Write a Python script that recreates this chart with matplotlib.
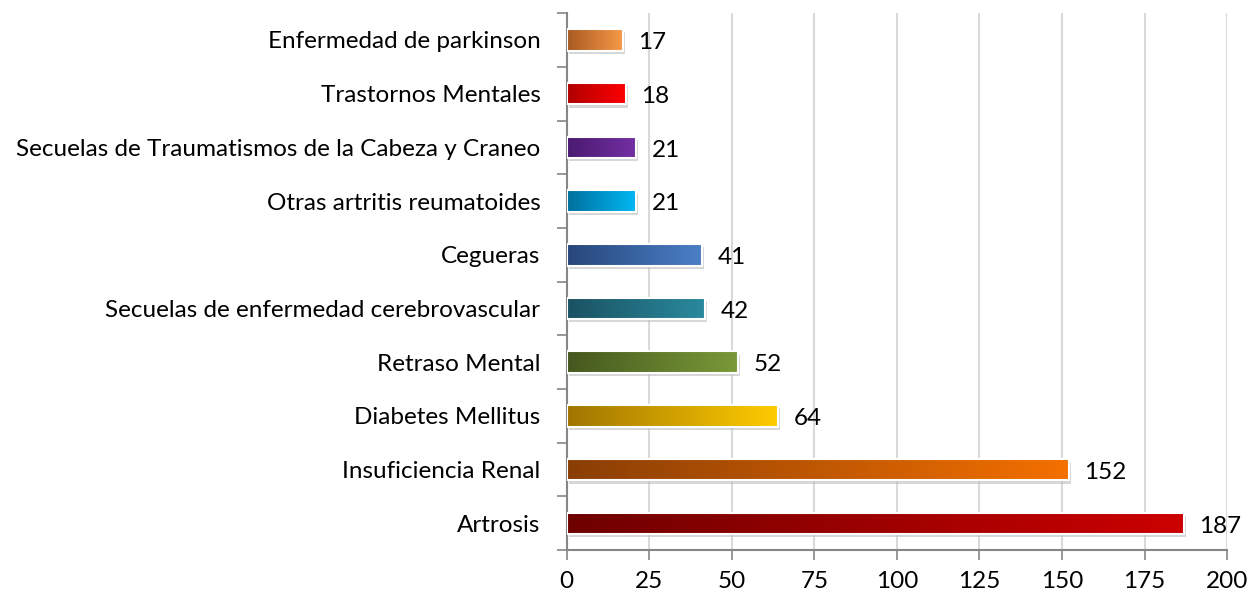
import numpy as np
import matplotlib.pyplot as plt
from matplotlib.colors import LinearSegmentedColormap
from matplotlib.patches import Rectangle

# data (bottom to top)
categories = ["Artrosis", "Insuficiencia Renal", "Diabetes Mellitus", "Retraso Mental",
              "Secuelas de enfermedad cerebrovascular", "Cegueras", "Otras artritis reumatoides",
              "Secuelas de Traumatismos de la Cabeza y Craneo", "Trastornos Mentales",
              "Enfermedad de parkinson"]
values = [187, 152, 64, 52, 42, 41, 21, 21, 18, 17]
# gradient left (dark) -> right (light)
dark_colors = ["#6e0000", "#8a3e05", "#a07500", "#45581e", "#1a5262", "#27467a",
               "#00709e", "#4a1a70", "#b00000", "#a85a22"]
light_colors = ["#cc0000", "#f47000", "#ffcc00", "#7a9a38", "#2a8a9e", "#4a80c8",
                "#00b8f4", "#7430a4", "#ff0000", "#f89a48"]
xticks = [0, 25, 50, 75, 100, 125, 150, 175, 200]

plt.rcParams['font.family'] = ['Lato', 'DejaVu Sans']

fig = plt.figure(figsize=(12.54, 5.96), dpi=100)
ax = fig.add_axes([0.452, 0.077, 0.5265, 0.901])

n = len(categories)
bar_h = 0.40
grad = np.linspace(0, 1, 256).reshape(1, -1)
for i, (v, c0, c1) in enumerate(zip(values, dark_colors, light_colors)):
    y0 = i - bar_h / 2
    # shadow
    ax.add_patch(Rectangle((0.6, y0 - 0.06), v, bar_h, facecolor="#bdbdbd",
                           edgecolor="none", alpha=0.6, zorder=2))
    cmap = LinearSegmentedColormap.from_list("g%d" % i, [c0, c1])
    ax.imshow(grad, cmap=cmap, aspect="auto", extent=(0, v, y0, y0 + bar_h),
              interpolation="bicubic", zorder=3)
    ax.add_patch(Rectangle((0, y0), v, bar_h, facecolor="none",
                           edgecolor="white", linewidth=1.5, zorder=4))
    ax.annotate(str(v), (v, i), xytext=(11, -2), textcoords="offset points",
                ha="left", va="center", fontsize=17.5, color="black", zorder=5)

ax.set_xlim(0, 200)
ax.set_ylim(-0.5, n - 0.5)
ax.set_xticks(xticks)
ax.set_yticks(range(n))
ax.set_yticklabels(categories)
ax.set_yticks(np.arange(-0.5, n, 1.0), minor=True)
ax.tick_params(axis="y", which="major", length=0, pad=19, labelsize=17.5)
ax.tick_params(axis="y", which="minor", length=7, width=1.2, color="#868686", direction="out")
ax.tick_params(axis="x", which="major", length=7, width=1.2, color="#868686", pad=8, labelsize=17.5)

ax.grid(axis="x", color="#d9d9d9", linewidth=1.5, zorder=0)
ax.set_axisbelow(True)
for s in ["top", "right"]:
    ax.spines[s].set_visible(False)
for s in ["left", "bottom"]:
    ax.spines[s].set_color("#868686")
    ax.spines[s].set_linewidth(1.5)

fig.savefig("out.png", dpi=100)
